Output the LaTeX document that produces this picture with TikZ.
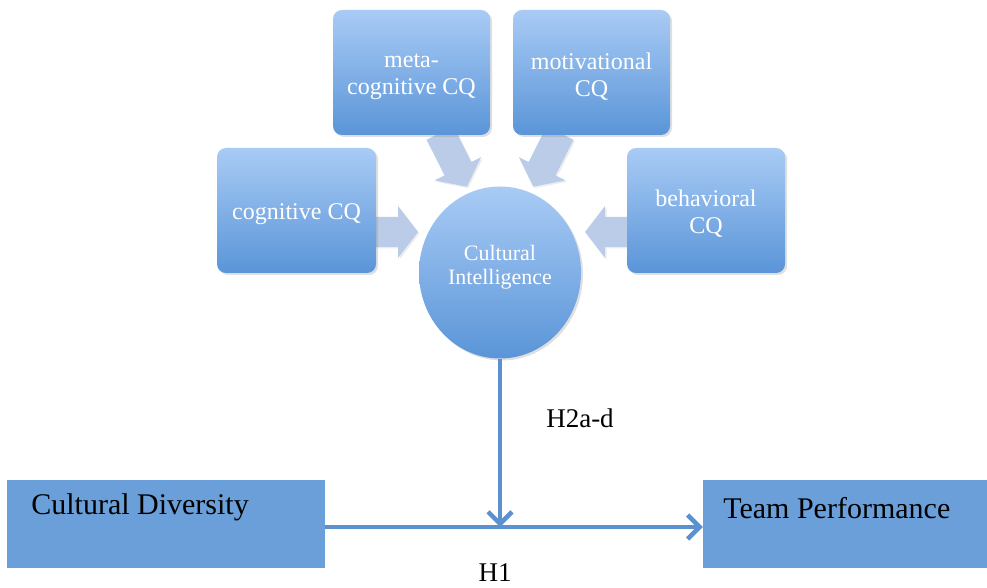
\documentclass[tikz,border=0pt]{standalone}
\usepackage{fontspec}
\setmainfont{Liberation Serif}
\usetikzlibrary{arrows.meta,shadows,shapes.geometric}

\definecolor{boxtop}{HTML}{A9CBF5}
\definecolor{boxbot}{HTML}{5A95D8}
\definecolor{flatblue}{HTML}{6A9FD9}
\definecolor{linkblue}{HTML}{5B91CF}
\definecolor{fatarrow}{HTML}{BACCE8}

% wide block arrow: start x, start y, direction angle, length
\newcommand\blkarr[4]{%
  \begin{scope}[shift={(#1,#2)},rotate=#3]
    \fill[fatarrow, drop shadow={opacity=0.15,shadow xshift=1.5pt,shadow yshift=-1.5pt}]
      (0,-15) -- (#4-20,-15) -- (#4-20,-26) -- (#4,0) -- (#4-20,26) -- (#4-20,15) -- (0,15) -- cycle;
  \end{scope}}

\begin{document}
\begin{tikzpicture}[x=1pt,y=1pt,
  cqbox/.style={rectangle, rounded corners=9pt, minimum width=157pt, minimum height=125pt,
    top color=boxtop, bottom color=boxbot, draw=none,
    drop shadow={opacity=0.25,shadow xshift=2pt,shadow yshift=-2pt}},
  cqtext/.style={text=white, align=center, font=\fontsize{24}{27}\selectfont},
  hub/.style={ellipse, minimum width=162pt, minimum height=172pt, inner sep=0pt,
    top color=boxtop, bottom color=boxbot, draw=none,
    drop shadow={opacity=0.25,shadow xshift=2pt,shadow yshift=-2pt}},
  hubtext/.style={text=white, align=center, font=\fontsize{22}{24}\selectfont},
  flatbox/.style={rectangle, fill=flatblue, draw=none, minimum height=88pt},
  boxlabel/.style={anchor=west, text=black, font=\fontsize{30}{32}\selectfont},
  hyp/.style={text=black, font=\fontsize{27}{30}\selectfont},
  link/.style={draw=linkblue, line width=4.5pt,
    -{Straight Barb[length=12pt,width=24pt]}}
]
\useasboundingbox (0,0) rectangle (987,588);

% block arrows feeding the hub
\blkarr{372}{356}{0}{46}
\blkarr{631}{356}{180}{46}
\blkarr{440}{455}{-63.4}{60}
\blkarr{560}{455}{-116.6}{60}

% four CQ facets
\node[cqbox] (meta) at (411.5,515.5) {};
\node[cqbox] (motiv) at (591.5,515.5) {};
\node[cqbox, minimum width=159pt] (cog) at (296.5,377.5) {};
\node[cqbox, minimum width=158pt] (beh) at (706,377.5) {};
\node[cqtext] (metat) at ([yshift=-4pt]meta.center) {meta-\\cognitive CQ};
\node[cqtext] (motivt) at ([yshift=-4pt]motiv.center) {motivational\\CQ};
\node[cqtext] (cogt) at ([yshift=-4pt]cog.center) {cognitive CQ};
\node[cqtext] (beht) at ([yshift=-3pt]beh.center) {behavioral\\CQ};

% hub
\node[hub] (ci) at (500,315.5) {};
\node[hubtext] (cit) at ([yshift=5pt]ci.center) {Cultural\\Intelligence};

% outcome model
\node[flatbox, minimum width=318pt] (cd) at (166,64) {};
\node[flatbox, minimum width=284pt] (tp) at (845,64) {};
\node[boxlabel] (cdl) at ([xshift=21pt,yshift=-28pt]cd.north west) {Cultural Diversity};
\node[boxlabel] (tpl) at ([xshift=17pt,yshift=-28pt]tp.north west) {Team Performance};

\draw[link] ([yshift=-3pt]cd.east) -- ([yshift=-3pt]tp.west);
\draw[link] (ci.south) -- ([yshift=-3pt]ci.south |- cd.east);

\node[hyp] (h2) at (580,170) {H2a-d};
\node[hyp] (h1) at (495,15) {H1};
\end{tikzpicture}
\end{document}
